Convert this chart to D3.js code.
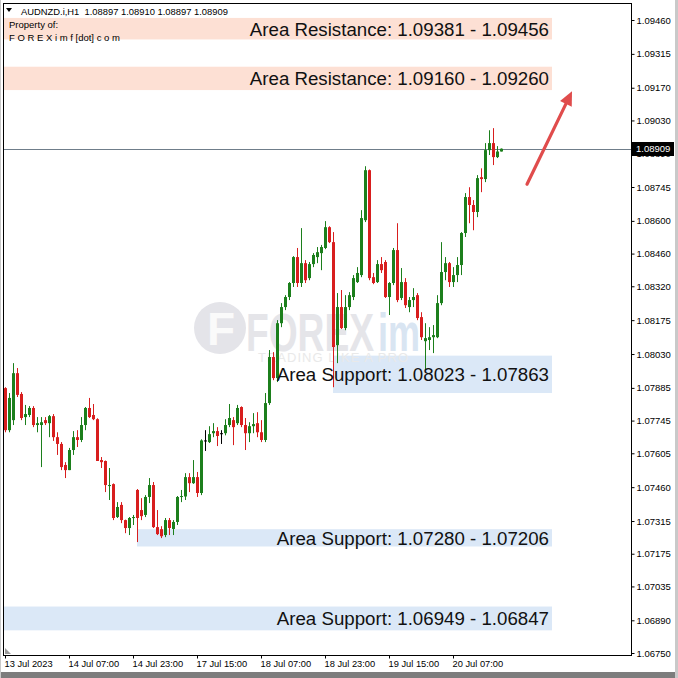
<!DOCTYPE html>
<html><head><meta charset="utf-8">
<script src="https://cdn.jsdelivr.net/npm/d3@7"></script>
<style>html,body{margin:0;padding:0;background:#fff;} svg{display:block;}</style>
</head><body>
<svg id="chart" width="678" height="678"></svg>
<script>
// ---------------- DATA ----------------
const symbol = "AUDNZD.i,H1";
const open  = [1.07884,1.07704,1.07747,1.07948,1.07859,1.07760,1.07769,1.07799,1.07726,1.07726,
               1.07747,1.07734,1.07764,1.07674,1.07645,1.07555,1.07533,1.07619,1.07674,1.07662,
               1.07726,1.07799,1.07769,1.07751,1.07576,1.07572,1.07465,1.07473,1.07332,1.07384,
               1.07319,1.07285,1.07328,1.07448,1.07362,1.07341,1.07418,1.07469,1.07289,1.07280,
               1.07255,1.07319,1.07281,1.07311,1.07418,1.07420,1.07503,1.07477,1.07503,1.07435,
               1.07658,1.07653,1.07691,1.07700,1.07690,1.07691,1.07726,1.07747,1.07734,1.07803,
               1.07726,1.07691,1.07721,1.07734,1.07695,1.07662,1.07820,1.08017,1.07927,1.08162,
               1.08231,1.08274,1.08334,1.08445,1.08334,1.08419,1.08355,1.08415,1.08445,1.08462,
               1.08484,1.08573,1.08509,1.08068,1.08231,1.08141,1.08231,1.08274,1.08338,1.08368,
               1.08603,1.08817,1.08359,1.08338,1.08415,1.08424,1.08274,1.08334,1.08475,1.08270,
               1.08338,1.08231,1.08261,1.08282,1.08188,1.08085,1.08090,1.08102,1.08102,1.08248,
               1.08381,1.08419,1.08338,1.08368,1.08411,1.08548,1.08702,1.08668,1.08638,1.08787,
               1.08779,1.08903,1.08933,1.08873,1.08897];
const high  = [1.07888,1.07863,1.07991,1.07970,1.07867,1.07812,1.07807,1.07807,1.07760,1.07760,
               1.07760,1.07769,1.07773,1.07695,1.07653,1.07567,1.07628,1.07700,1.07704,1.07760,
               1.07803,1.07842,1.07816,1.07755,1.07589,1.07574,1.07542,1.07476,1.07396,1.07396,
               1.07321,1.07332,1.07341,1.07452,1.07413,1.07426,1.07499,1.07482,1.07362,1.07293,
               1.07328,1.07328,1.07319,1.07422,1.07448,1.07520,1.07520,1.07576,1.07525,1.07665,
               1.07704,1.07721,1.07734,1.07717,1.07704,1.07751,1.07816,1.07760,1.07812,1.07806,
               1.07756,1.07738,1.07777,1.07781,1.07747,1.07863,1.08047,1.08038,1.08175,1.08248,
               1.08282,1.08338,1.08449,1.08484,1.08569,1.08432,1.08424,1.08462,1.08488,1.08497,
               1.08599,1.08577,1.08552,1.08291,1.08304,1.08282,1.08295,1.08368,1.08402,1.08646,
               1.08834,1.08820,1.08377,1.08432,1.08445,1.08432,1.08338,1.08484,1.08590,1.08398,
               1.08355,1.08274,1.08312,1.08291,1.08209,1.08162,1.08145,1.08154,1.08282,1.08509,
               1.08445,1.08424,1.08402,1.08445,1.08552,1.08719,1.08744,1.08689,1.08796,1.08825,
               1.08933,1.08988,1.08997,1.08920,1.08910];
const low   = [1.07695,1.07695,1.07726,1.07846,1.07747,1.07726,1.07760,1.07717,1.07695,1.07546,
               1.07726,1.07674,1.07658,1.07598,1.07533,1.07499,1.07533,1.07598,1.07632,1.07653,
               1.07704,1.07756,1.07747,1.07572,1.07542,1.07439,1.07405,1.07319,1.07328,1.07306,
               1.07263,1.07255,1.07298,1.07225,1.07319,1.07332,1.07392,1.07285,1.07255,1.07242,
               1.07246,1.07255,1.07255,1.07298,1.07396,1.07405,1.07439,1.07474,1.07418,1.07426,
               1.07615,1.07649,1.07674,1.07636,1.07645,1.07682,1.07717,1.07640,1.07726,1.07717,
               1.07619,1.07653,1.07691,1.07674,1.07653,1.07653,1.07812,1.07918,1.07910,1.08145,
               1.08218,1.08261,1.08317,1.08317,1.08317,1.08334,1.08346,1.08402,1.08419,1.08389,
               1.08479,1.08505,1.07888,1.07991,1.08137,1.08132,1.08218,1.08261,1.08334,1.08359,
               1.08595,1.08346,1.08329,1.08334,1.08377,1.08270,1.08197,1.08325,1.08252,1.08261,
               1.08227,1.08209,1.08231,1.08175,1.08090,1.07961,1.08047,1.08034,1.08098,1.08239,
               1.08346,1.08317,1.08317,1.08338,1.08368,1.08531,1.08590,1.08560,1.08616,1.08723,
               1.08766,1.08882,1.08839,1.08869,1.08897];
const close = [1.07704,1.07842,1.07948,1.07855,1.07756,1.07773,1.07799,1.07726,1.07734,1.07738,
               1.07734,1.07764,1.07674,1.07645,1.07546,1.07533,1.07619,1.07674,1.07662,1.07726,
               1.07799,1.07760,1.07751,1.07572,1.07567,1.07469,1.07469,1.07328,1.07375,1.07319,
               1.07285,1.07328,1.07332,1.07328,1.07336,1.07418,1.07469,1.07289,1.07259,1.07250,
               1.07319,1.07285,1.07311,1.07418,1.07422,1.07503,1.07477,1.07503,1.07435,1.07660,
               1.07660,1.07687,1.07700,1.07679,1.07691,1.07726,1.07756,1.07717,1.07799,1.07726,
               1.07691,1.07721,1.07730,1.07695,1.07662,1.07820,1.08017,1.07927,1.08162,1.08231,
               1.08274,1.08334,1.08445,1.08334,1.08419,1.08346,1.08415,1.08454,1.08466,1.08488,
               1.08573,1.08509,1.08060,1.08231,1.08141,1.08231,1.08282,1.08355,1.08377,1.08612,
               1.08817,1.08355,1.08334,1.08415,1.08389,1.08274,1.08334,1.08475,1.08261,1.08338,
               1.08239,1.08261,1.08274,1.08184,1.08102,1.08098,1.08102,1.08111,1.08248,1.08381,
               1.08419,1.08338,1.08368,1.08411,1.08548,1.08702,1.08668,1.08638,1.08783,1.08779,
               1.08903,1.08933,1.08873,1.08897,1.08909];

const timeLabels    = ["13 Jul 2023","14 Jul 07:00","14 Jul 23:00","17 Jul 15:00","18 Jul 07:00","18 Jul 23:00","19 Jul 15:00","20 Jul 07:00"];
const timeLabelBars = [0,16,32,48,64,80,96,112];

const priceTicks = [1.09460,1.09315,1.09170,1.09030,1.08890,1.08745,1.08600,1.08460,1.08320,1.08175,
                    1.08030,1.07885,1.07745,1.07605,1.07460,1.07315,1.07175,1.07035,1.06890,1.06750];

const zoneLabels   = ["Area Resistance: 1.09381 - 1.09456","Area Resistance: 1.09160 - 1.09260",
                      "Area Support: 1.08023 - 1.07863","Area Support: 1.07280 - 1.07206","Area Support: 1.06949 - 1.06847"];
const zoneLow      = [1.09381,1.09160,1.07863,1.07206,1.06847];
const zoneHigh     = [1.09456,1.09260,1.08023,1.07280,1.06949];
const zoneKind     = ["res","res","sup","sup","sup"];
const zoneStartBar = [-0.25,-0.25,82,33,-0.25];
const zoneEndBar   = 136.75;

const arrowFrom = [130.5, 1.08757];   // [bar, price]
const arrowTo   = [141.75, 1.09155];

const lastPrice = 1.08909;

// ---------------- LAYOUT ----------------
const W = 678, H = 678;
const L = 4, R = 631, T = 4, B = 655;
const svg = d3.select("#chart");
const FONT = "'Liberation Sans', Arial, sans-serif";

const x = d3.scaleLinear().domain([-0.25, 156.5]).range([L, R]);
const y = d3.scaleLinear().domain([1.06750, 1.09460]).range([653, 20]);

// outer window frame
svg.append("rect").attr("x",0).attr("y",0).attr("width",W).attr("height",H).attr("fill","#fff");
svg.append("rect").attr("x",0).attr("y",672).attr("width",W).attr("height",6).attr("fill","#7d7d7d");
svg.append("rect").attr("x",675).attr("y",0).attr("width",3).attr("height",H).attr("fill","#c9c9c9");
svg.append("rect").attr("x",0).attr("y",0).attr("width",1).attr("height",H).attr("fill","#c9c9c9");

svg.append("defs").append("clipPath").attr("id","plot")
  .append("rect").attr("x",L).attr("y",T).attr("width",R-L).attr("height",B-T);
const plot = svg.append("g").attr("clip-path","url(#plot)");

// zones
const zoneIdx = d3.range(zoneLabels.length);
plot.selectAll("rect.zone").data(zoneIdx).join("rect")
  .attr("class","zone")
  .attr("x", i => x(zoneStartBar[i]))
  .attr("width", i => x(zoneEndBar) - x(zoneStartBar[i]))
  .attr("y", i => y(zoneHigh[i]) - (i === 0 ? 3 : 0))
  .attr("height", i => y(zoneLow[i]) - y(zoneHigh[i]) + (i === 0 ? 4 : 0))
  .attr("fill", i => zoneKind[i] === "res" ? "#fde0d4" : "#dbe8f7");

// watermark
const wm = plot.append("g");
wm.append("circle").attr("cx",220).attr("cy",328).attr("r",26).attr("fill","#e4e4e9");
wm.append("text").attr("x",221).attr("y",345).attr("text-anchor","middle")
  .attr("font-family",FONT).attr("font-weight","bold").attr("font-size",46).attr("fill","#fafafa").text("F");
wm.append("text").attr("x",246).attr("y",351).attr("font-family",FONT).attr("font-weight","bold")
  .attr("font-size",54).attr("textLength",128).attr("lengthAdjust","spacingAndGlyphs")
  .attr("fill","#e5e5e9").text("FOREX");
wm.append("text").attr("x",378).attr("y",351).attr("font-family",FONT).attr("font-weight","bold")
  .attr("font-size",54).attr("textLength",42).attr("lengthAdjust","spacingAndGlyphs")
  .attr("fill","#d9e5f2").text("im");
wm.append("text").attr("x",258).attr("y",362).attr("font-family",FONT).attr("font-size",13)
  .attr("textLength",150).attr("lengthAdjust","spacing").attr("fill","#e9e9e9").text("TRADING LIKE A PRO");

// current price line
plot.append("line").attr("x1",L).attr("x2",R).attr("y1",Math.round(y(lastPrice))+0.5).attr("y2",Math.round(y(lastPrice))+0.5)
  .attr("stroke","#6f7d8a").attr("stroke-width",1);

// candles
const bars = d3.range(open.length);
const colOf = i => Math.abs(open[i]-close[i]) < 0.00003 ? "#000" : (close[i] > open[i] ? "#1c7f1c" : "#d81e1e");
const cg = plot.append("g");
cg.selectAll("rect.wick").data(bars).join("rect").attr("class","wick")
  .attr("x", i => Math.round(x(i)))
  .attr("width",1)
  .attr("y", i => y(high[i]))
  .attr("height", i => Math.max(1, y(low[i]) - y(high[i])))
  .attr("fill", colOf);
cg.selectAll("rect.body").data(bars).join("rect").attr("class","body")
  .attr("x", i => Math.round(x(i)) - 1)
  .attr("width",3)
  .attr("y", i => y(Math.max(open[i],close[i])))
  .attr("height", i => Math.max(1, Math.abs(y(open[i]) - y(close[i]))))
  .attr("fill", colOf);

// zone labels
plot.selectAll("text.zl").data(zoneIdx).join("text").attr("class","zl")
  .attr("x", x(zoneEndBar) - 3)
  .attr("y", i => (y(zoneHigh[i]) + y(zoneLow[i]))/2)
  .attr("dy","0.36em")
  .attr("text-anchor","end")
  .attr("font-family",FONT).attr("font-size",18.7).attr("fill","#111")
  .text(i => zoneLabels[i]);

// arrow
const ax1 = x(arrowFrom[0]), ay1 = y(arrowFrom[1]), ax2 = x(arrowTo[0]), ay2 = y(arrowTo[1]);
const ang = Math.atan2(ay2-ay1, ax2-ax1);
const hl = 14, hw = 6.5;
const bx = ax2 - hl*Math.cos(ang), by = ay2 - hl*Math.sin(ang);
plot.append("line").attr("x1",ax1).attr("y1",ay1).attr("x2",bx).attr("y2",by)
  .attr("stroke","#e04c4c").attr("stroke-width",3.2).attr("stroke-linecap","round");
plot.append("path").attr("d", d3.line()([
  [ax2,ay2],
  [bx + hw*Math.sin(ang), by - hw*Math.cos(ang)],
  [bx - hw*Math.sin(ang), by + hw*Math.cos(ang)]
])+"Z").attr("fill","#e04c4c");

// header
plot.append("path").attr("d","M6,8 L12,8 L9,12 Z").attr("fill","#000");
plot.append("text").attr("x",21).attr("y",15).attr("font-family",FONT).attr("font-size",9.4).attr("fill","#000")
  .attr("xml:space","preserve")
  .text(symbol + "  " + [open[open.length-1],high[high.length-1],low[low.length-1],close[close.length-1]].map(d3.format(".5f")).join(" "));
plot.append("text").attr("x",9).attr("y",28).attr("font-family",FONT).attr("font-size",9.5).attr("fill","#000").text("Property of:");
plot.append("text").attr("x",9).attr("y",41).attr("font-family",FONT).attr("font-size",9.5).attr("fill","#000").text("F O R E X i m f [dot] c o m");

// frame
svg.append("rect").attr("x",L-0.5).attr("y",T-0.5).attr("width",R-L+1).attr("height",B-T+1)
  .attr("fill","none").attr("stroke","#000").attr("stroke-width",1);

// right axis
const yAxis = d3.axisRight(y).tickValues(priceTicks).tickFormat(d3.format(".5f")).tickSize(3).tickPadding(2);
const gy = svg.append("g").attr("transform",`translate(${R+0.5},0)`).call(yAxis);
gy.select(".domain").remove();
gy.selectAll("text").attr("font-family",FONT).attr("font-size",9.5).attr("fill","#000");
gy.selectAll("line").attr("stroke","#000");

// bottom axis
const xAxis = d3.axisBottom(x).tickValues(timeLabelBars).tickFormat((d,i) => timeLabels[i]).tickSize(3).tickPadding(2);
const gx = svg.append("g").attr("transform",`translate(0,${B+0.5})`).call(xAxis);
gx.select(".domain").remove();
gx.selectAll("text").attr("font-family",FONT).attr("font-size",9.3).attr("fill","#000")
  .attr("text-anchor","start").attr("dx",-1);
gx.selectAll("line").attr("stroke","#000");

// small chart-shift triangle
svg.append("path").attr("d",`M${L+1},${B-7} L${L+1},${B-1} L${L+7},${B-1} Z`).attr("fill","#9a9a9a");

// current price box
const py = Math.round(y(lastPrice));
svg.append("rect").attr("x",R+1).attr("y",py-7).attr("width",42).attr("height",14).attr("fill","#000");
svg.append("text").attr("x",R+5).attr("y",py).attr("dy","0.35em").attr("font-family",FONT).attr("font-size",9.5)
  .attr("fill","#fff").text(d3.format(".5f")(lastPrice));
</script>
</body></html>
